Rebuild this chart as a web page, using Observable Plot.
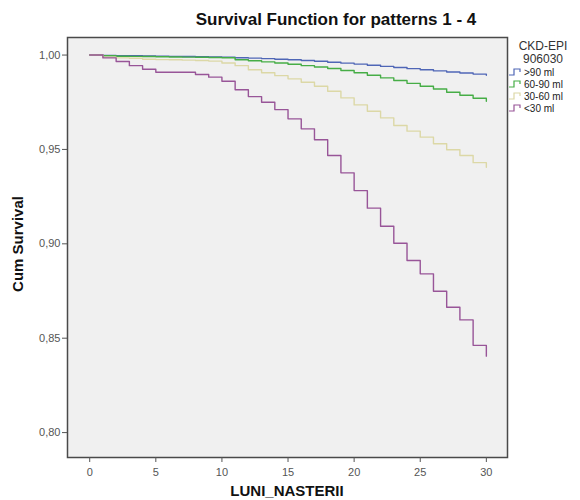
<!DOCTYPE html>
<html>
<head>
<meta charset="utf-8">
<script src="https://cdn.jsdelivr.net/npm/d3@7"></script>
<script src="https://cdn.jsdelivr.net/npm/@observablehq/plot@0.6"></script>
<style>
  body { margin: 0; background: #fff; font-family: "Liberation Sans", Arial, sans-serif; }
  #wrap { position: relative; width: 580px; height: 500px; overflow: hidden; }
  #title { position: absolute; left: 0; width: 672px; top: 10px; text-align: center; font-weight: bold; font-size: 17px; color: #111; }
  #ylab { position: absolute; left: 17px; top: 244px; transform: translate(-50%, -50%) rotate(-90deg); font-weight: bold; font-size: 15px; color: #111; white-space: nowrap; }
  #xlab { position: absolute; left: 287px; top: 490px; transform: translate(-50%, -50%); font-weight: bold; font-size: 15px; color: #111; white-space: nowrap; }
  #legend { position: absolute; left: 508px; top: 40px; width: 72px; font-size: 10px; color: #222; }
  #legend .head { text-align: center; font-size: 12px; line-height: 13px; color: #333; width: 70px; }
  #legend .item { display: flex; align-items: center; height: 12px; }
  #legend .item svg { margin-right: 1px; }
</style>
</head>
<body>
<div id="wrap">
  <div id="chart"></div>
  <div id="title">Survival Function for patterns 1 - 4</div>
  <div id="ylab">Cum Survival</div>
  <div id="xlab">LUNI_NASTERII</div>
  <div id="legend"></div>
</div>
<script>
const months = [0,1,2,3,4,5,6,7,8,9,10,11,12,13,14,15,16,17,18,19,20,21,22,23,24,25,26,27,28,29,30];
const seriesNames = [">90 ml", "60-90 ml", "30-60 ml", "<30 ml"];
const seriesColors = ["#4f66b6", "#46ad46", "#dcd8a6", "#985598"];
const over90 = [1.0,0.9998,0.9997,0.9996,0.9995,0.9994,0.9993,0.9992,0.9991,0.9990,0.9988,0.9986,0.9984,0.9981,0.9978,0.9975,0.9971,0.9967,0.9962,0.9957,0.9952,0.9946,0.9940,0.9934,0.9928,0.9922,0.9916,0.9910,0.9905,0.9899,0.9893];
const from60to90 = [1.0,0.9996,0.9994,0.9993,0.9992,0.9991,0.9990,0.9989,0.9988,0.9987,0.9986,0.9975,0.9970,0.9964,0.9958,0.9951,0.9944,0.9937,0.9929,0.9918,0.9906,0.9893,0.9879,0.9865,0.9850,0.9835,0.9820,0.9803,0.9787,0.9771,0.9755];
const from30to60 = [1.0,0.9988,0.9985,0.9983,0.9978,0.9976,0.9975,0.9973,0.9971,0.9968,0.9958,0.9944,0.9922,0.9906,0.9891,0.9874,0.9856,0.9835,0.9808,0.9773,0.9736,0.9702,0.9667,0.9627,0.9597,0.9565,0.9530,0.9498,0.9468,0.9430,0.9405];
const under30 = [1.0,0.9985,0.9966,0.9944,0.9925,0.9909,0.9909,0.9909,0.9897,0.9883,0.9861,0.9816,0.9780,0.9750,0.9711,0.9662,0.9609,0.9551,0.9468,0.9376,0.9282,0.9189,0.9093,0.9003,0.8912,0.8841,0.8749,0.8664,0.8597,0.8462,0.8405];
const yTicks = [0.80, 0.85, 0.90, 0.95, 1.00];
const xTicks = [0, 5, 10, 15, 20, 25, 30];

const seriesValues = [over90, from60to90, from30to60, under30];
const rows = [];
seriesValues.forEach((vals, i) => {
  months.forEach((m, j) => rows.push({month: m, surv: vals[j], group: seriesNames[i]}));
});

const fmt = d => d3.format(".2f")(d).replace(".", ",");

const chart = Plot.plot({
  width: 580,
  height: 500,
  marginTop: 37,
  marginBottom: 43,
  marginLeft: 67,
  marginRight: 73,
  style: {background: "transparent", fontFamily: "Liberation Sans, Arial, sans-serif"},
  x: {domain: [-1.68, 31.6]},
  y: {domain: [0.7868, 1.0093]},
  color: {domain: seriesNames, range: seriesColors},
  marks: [
    Plot.frame({fill: "#f0f0f0", stroke: "none"}),
    Plot.line(rows, {x: "month", y: "surv", stroke: "group", z: "group", curve: "step-after", strokeWidth: 1.4}),
    Plot.frame({stroke: "#4a4a4a", strokeWidth: 1.5}),
    Plot.axisY({ticks: yTicks, tickFormat: fmt, tickSize: 5, tickPadding: 2, fontSize: 11, color: "#555", label: null}),
    Plot.axisX({ticks: xTicks, tickSize: 5, tickPadding: 6, fontSize: 11, color: "#555", label: null})
  ]
});
document.getElementById("chart").appendChild(chart);

const legend = document.getElementById("legend");
legend.innerHTML = '<div class="head">CKD-EPI<br>906030</div>';
seriesNames.forEach((name, i) => {
  const item = document.createElement("div");
  item.className = "item";
  item.innerHTML = `<svg width="15" height="10"><path d="M1,8 H6 V2 H12 V5" fill="none" stroke="${seriesColors[i]}" stroke-width="1.2"/></svg><span>${name}</span>`;
  legend.appendChild(item);
});
</script>
</body>
</html>
